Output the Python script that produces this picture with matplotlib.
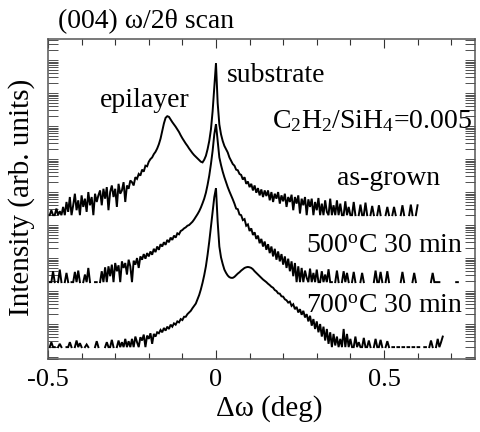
import numpy as np
import matplotlib
matplotlib.use("Agg")
import matplotlib.pyplot as plt
from matplotlib.ticker import LogLocator, NullFormatter, FixedLocator, MultipleLocator, FixedFormatter

nan = np.nan
plt.rcParams['font.family'] = ['Liberation Serif', 'DejaVu Serif']
plt.rcParams['mathtext.fontset'] = 'custom'
plt.rcParams['mathtext.rm'] = 'Liberation Serif'
plt.rcParams['mathtext.it'] = 'Liberation Serif:italic'
plt.rcParams['axes.unicode_minus'] = False

# scan grid: start and step (deg)
step = 0.005
x0_asgrown = -0.500
x0_500 = -0.495
x0_700 = -0.495

# log10 intensity (offset per curve)
logI_asgrown = [
    4.30, 4.30, 4.45, 4.30, 4.30, 4.50, 4.30, 4.42, 4.30, 4.55,
    4.30, 4.70, 4.40, 4.85, 4.30, 4.60, 4.95, 4.45, 4.75, 4.30, 4.90, 4.55, 4.80, 4.40, 5.00, 4.60, 4.85, 4.30, 4.95, 4.70,
    4.90, 5.05, 4.60, 5.10, 4.80, 5.15, 4.45, 5.00, 5.20, 4.85, 5.10, 4.55, 5.25, 4.95, 5.05, 5.30, 4.70, 5.20, 5.10, 5.35,
    5.30, 5.20, 5.45, 5.40, 5.55, 5.50, 5.68, 5.62, 5.80, 5.78,
    5.92, 6.00, 6.05, 6.15, 6.22, 6.32, 6.45, 6.62, 6.85, 7.08, 7.25, 7.30,
    7.28, 7.20, 7.12, 7.05, 6.98, 6.90, 6.82, 6.72, 6.63, 6.55, 6.47, 6.40, 6.32, 6.25, 6.18, 6.12, 6.07, 6.02, 5.97, 5.92, 5.90,
    5.98, 6.10, 6.30, 6.55, 6.90, 7.45, 8.20, 8.91, 7.70, 7.05, 6.75, 6.55, 6.40, 6.30, 6.20,
    6.05, 5.95, 5.85, 5.80, 5.68, 5.66, 5.55, 5.52, 5.38, 5.45, 5.25, 5.32, 5.15, 5.25, 5.05, 5.20, 4.98, 5.12, 4.90, 5.08, 4.85, 5.05, 4.88,
    5.05, 4.75, 5.00, 4.70, 4.95, 4.80, 5.00, 4.65, 4.90, 4.72, 4.95, 4.55, 4.85, 4.70, 4.92, 4.45, 4.85, 4.65, 4.90, 4.35,
    4.80, 4.60, 4.85, 4.30, 4.78, 4.55, 4.80, 4.30, 4.70, 4.45, 4.82, 4.30, 4.65, 4.30, 4.75, 4.40, 4.30, 4.80, 4.30, 4.60,
    4.30, 4.75, 4.30, 4.65, 4.30, 4.30, 4.72, 4.30, 4.55, 4.30,
    4.30, 4.70, 4.30, nan, 4.30, 4.62, 4.30, 4.30, 4.68, 4.30,
    nan, 4.30, 4.58, 4.30, nan, 4.30, 4.60, 4.30, nan, nan,
    4.30, 4.55, 4.30, nan, 4.30, 4.55, 4.30, nan, nan, 4.30,
    4.60, 4.30, nan, nan, 4.30, 4.62, 4.30, nan, 4.30, 4.60,
]

logI_500C = [
    2.27, 2.27, 2.60, 2.27, nan, 2.27, 2.65, 2.27, nan, 2.27,
    2.55, 2.27, nan, 2.27, 2.27, 2.58, 2.27, 2.62, 2.27, nan,
    2.27, 2.50, 2.27, 2.70, 2.27, nan, nan, 2.27, 2.27, nan,
    2.27, 2.60, 2.27, 2.72,
    2.27, 2.75, 2.45, 2.80, 2.27, 2.85, 2.60, 2.78, 2.27, 2.90,
    2.70, 2.85, 2.50, 2.95, 2.75, 2.27, 2.92, 2.80, 3.00, 2.70,
    3.05, 2.95, 3.12, 2.98, 3.15, 3.05, 3.20, 3.10, 3.28, 3.18,
    3.35, 3.25, 3.42, 3.35, 3.48, 3.40, 3.55, 3.48, 3.62, 3.55,
    3.68, 3.62, 3.75, 3.72, 3.82,
    3.85, 3.90, 3.93, 3.98, 4.00, 4.05, 4.10, 4.17, 4.25, 4.33,
    4.42, 4.53, 4.66, 4.80, 4.98, 5.22, 5.50, 5.85, 6.25, 6.75,
    7.06, 6.55, 6.05, 5.82, 5.62, 5.45, 5.30, 5.15, 5.02, 4.90, 4.78,
    4.65, 4.50, 4.48, 4.32, 4.30, 4.15, 4.18, 3.98, 4.02, 3.82,
    3.90, 3.70, 3.78, 3.58, 3.68, 3.45, 3.58, 3.35, 3.50, 3.25,
    3.42, 3.15, 3.35, 3.05, 3.28, 2.95, 3.20, 2.90, 3.12, 2.80,
    3.05, 2.70, 2.98, 2.60, 2.90, 2.45, 2.85, 2.27, 2.75,
    2.27, 2.70, 2.27, 2.62, 2.40, 2.27, 2.68, 2.27, 2.55, 2.27,
    2.65, 2.27, 2.27, 2.60, 2.27, 2.50, 2.27, 2.66, 2.27, 2.27,
    nan, 2.27, 2.62, 2.27, nan, 2.27, 2.60, 2.27, 2.55, 2.27,
    nan, 2.27, 2.58, 2.27, nan, nan, 2.27, 2.55, 2.27, nan,
    nan, nan, nan, nan, 2.27, 2.62, 2.27, 2.27, 2.58, 2.27,
    nan, 2.27, 2.60, 2.27, nan, nan, nan, nan, nan, nan,
    2.27, 2.58, 2.27, nan, nan, nan, nan, 2.27, 2.55, 2.27,
    nan, nan, nan, nan, nan, nan, nan, nan, 2.27, 2.55,
    2.27, 2.27, 2.27, 2.27, nan, nan, nan, nan, nan, nan,
    nan, nan, nan, 2.27, 2.27,
]

logI_700C = [
    0.30, 0.45, 0.30, 0.30, nan, 0.30, 0.40, 0.30, nan, nan,
    0.30, 0.30, 0.45, 0.30, nan, 0.30, 0.50, 0.30, 0.42, 0.30,
    nan, 0.30, 0.38, 0.30, nan, nan, nan, 0.30, 0.48, 0.30,
    nan, nan, nan, 0.30, 0.45, 0.30, 0.30, 0.52, 0.30, nan,
    0.30, 0.50, 0.30, 0.45, 0.30, 0.55, 0.30, 0.48, 0.30,
    0.55, 0.30, 0.62, 0.45, 0.30, 0.60, 0.50, 0.68, 0.30, 0.65, 0.55, 0.72, 0.40, 0.70, 0.62, 0.75,
    0.72, 0.82, 0.75, 0.88, 0.80, 0.92, 0.85, 0.98, 0.92, 1.02,
    0.98, 1.08, 1.05, 1.15, 1.12, 1.22, 1.22, 1.30, 1.35, 1.40,
    1.48, 1.55, 1.62, 1.75,
    1.88, 2.05, 2.25, 2.48, 2.75, 3.10, 3.50, 3.95, 4.40, 4.85,
    5.12, 4.10, 3.35, 3.02, 2.82, 2.65, 2.55, 2.47, 2.42, 2.40,
    2.40, 2.43, 2.48, 2.53, 2.57, 2.62, 2.66, 2.70, 2.72, 2.73,
    2.72, 2.70, 2.66, 2.60, 2.55, 2.50, 2.45, 2.40, 2.35, 2.31,
    2.27, 2.22, 2.18, 2.13, 2.10, 2.03, 2.00, 1.93, 1.92, 1.84, 1.83,
    1.75, 1.72, 1.65, 1.68, 1.55, 1.60, 1.45, 1.52, 1.35, 1.45,
    1.28, 1.40, 1.20, 1.30, 1.08, 1.25, 0.95, 1.15, 0.85, 1.08,
    0.75, 1.00, 0.62, 0.92, 0.50, 0.85, 0.40, 0.75, 0.30, 0.70,
    0.35, 0.62, 0.30, 0.55, 0.30, 0.85,
    0.30, 0.70, 0.30, 0.55, 0.30, 0.30, 0.62, 0.30, 0.45, 0.30,
    0.30, 0.58, 0.30, 0.30, 0.50, 0.30, nan, 0.30, 0.55, 0.30,
    0.30, 0.52, 0.30, nan, 0.30, 0.48, 0.30, nan, 0.30, 0.30,
    nan, 0.30, 0.30, nan, 0.30, 0.30, nan, 0.30, 0.30, nan,
    0.30, 0.30, nan, 0.30, 0.30, nan, nan, 0.30, 0.30, nan,
    0.30, 0.50, 0.30, nan, 0.30, 0.55, 0.30, 0.45, 0.62,
]

series = [(x0_asgrown, logI_asgrown), (x0_500, logI_500C), (x0_700, logI_700C)]

xticks = [-0.5, 0, 0.5]
xticklabels = ["-0.5", "0", "0.5"]

fig = plt.figure(figsize=(4.81, 4.32), dpi=100)
ax = fig.add_axes([48/481, 1-359/432, 427/481, 320/432])

for x0, ly in series:
    ly = np.array(ly, dtype=float)
    x = x0 + step*np.arange(len(ly))
    ax.plot(x, 10**ly, color='black', lw=1.4, solid_joinstyle='miter')

ax.set_yscale('log')
ax.set_xlim(-0.5, 0.771)
ax.set_ylim(10**-0.06, 10**9.64)

ax.xaxis.set_major_locator(FixedLocator(xticks))
ax.xaxis.set_major_formatter(FixedFormatter(xticklabels))
ax.xaxis.set_minor_locator(MultipleLocator(0.1))
ax.yaxis.set_major_locator(LogLocator(base=10, numticks=40))
ax.yaxis.set_minor_locator(LogLocator(base=10, subs=np.arange(2, 10), numticks=40))
ax.yaxis.set_major_formatter(NullFormatter())
ax.yaxis.set_minor_formatter(NullFormatter())

ax.tick_params(axis='x', which='major', direction='in', top=True, bottom=True,
               length=6.5, width=0.8, labelsize=19, pad=7, color='#333333')
ax.tick_params(axis='x', which='minor', direction='in', top=True, bottom=True,
               length=4.3, width=0.8, color='#333333')
ax.tick_params(axis='y', which='both', direction='in', left=True, right=True,
               length=7, width=0.6, color='#333333')
for s in ax.spines.values():
    s.set_color('#555555')
    s.set_linewidth(1.1)

ax.set_xlabel('Δω (deg)', fontsize=21)
ax.xaxis.set_label_coords(0.518, -0.113)
ax.set_ylabel('Intensity (arb. units)', fontsize=21)
ax.yaxis.set_label_coords(-0.030, 0.505)

fig.text(58/481, 1-28/432, '(004) ω/2θ scan', fontsize=20, va='baseline', ha='left')

tkw = dict(transform=ax.transAxes, fontsize=20, va='baseline')
ax.text(0.122, 0.7875, 'epilayer', ha='left', **tkw)
ax.text(0.419, 0.866, 'substrate', ha='left', **tkw)
ax.text(0.993, 0.722, r'C$_2$H$_2$/SiH$_4$=0.005', ha='right', **tkw)
ax.text(0.918, 0.544, 'as-grown', ha='right', **tkw)
ax.text(0.972, 0.331, r'500$^{\mathrm{o}}$C 30 min', ha='right', **tkw)
ax.text(0.972, 0.144, r'700$^{\mathrm{o}}$C 30 min', ha='right', **tkw)

fig.savefig('out.png', dpi=100)
